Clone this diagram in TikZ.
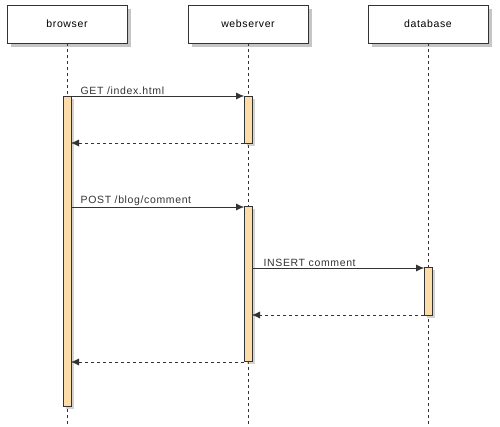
\documentclass[tikz,border=0pt]{standalone}
\usepackage{fontspec}
\setmainfont[LetterSpace=6]{Liberation Sans}
\usetikzlibrary{shadows,arrows.meta}
\definecolor{bar}{HTML}{FCDDAA}
\begin{document}
\begin{tikzpicture}[x=1pt,y=-1pt,
  actor/.style={draw=black!80,fill=white,minimum width=120pt,minimum height=38pt,inner sep=0,font=\fontsize{10.5}{12}\selectfont,drop shadow={shadow xshift=4pt,shadow yshift=-4pt,opacity=0.45}},
  act/.style={draw=black!80,fill=bar,minimum width=8pt,inner sep=0,anchor=north,drop shadow={shadow xshift=3pt,shadow yshift=-3pt,opacity=0.35}},
  life/.style={dashed,black!80},
  msg/.style={-{Latex[length=8pt,width=7pt]},black!80},
  ret/.style={msg,dashed},
  lbl/.style={font=\fontsize{10.5}{12}\selectfont,above right,inner sep=1.5pt}]
\useasboundingbox (0,0) rectangle (500,427);
\node[actor] (b) at (67,24) {browser};
\node[actor] (w) at (248,24) {webserver};
\node[actor] (d) at (428,24) {database};
\coordinate (be) at (67,427); \coordinate (we) at (248,427); \coordinate (de) at (428,427);
\draw[life] (b.south) -- (be);
\draw[life] (w.south) -- (we);
\draw[life] (d.south) -- (de);
\node[act,minimum height=310pt] (ba) at (67,96) {};
\node[act,minimum height=47pt] (wa1) at (248,96) {};
\node[act,minimum height=155pt] (wa2) at (248,206) {};
\node[act,minimum height=48pt] (da) at (428,267) {};
\coordinate (m1a) at (71,96); \coordinate (m1b) at (244,96);
\draw[msg] (m1a) -- (m1b) node[lbl,pos=0,xshift=8pt] {GET /index.html};
\coordinate (m2a) at (244,143); \coordinate (m2b) at (71,143);
\draw[ret] (m2a) -- (m2b);
\coordinate (m3a) at (71,207); \coordinate (m3b) at (244,207);
\draw[msg] (m3a) -- (m3b) node[lbl,pos=0,xshift=8pt] {POST /blog/comment};
\coordinate (m4a) at (252,268); \coordinate (m4b) at (424,268);
\draw[msg] (m4a) -- (m4b) node[lbl,pos=0,xshift=10pt] {INSERT comment};
\coordinate (m5a) at (424,315); \coordinate (m5b) at (252,315);
\draw[ret] (m5a) -- (m5b);
\coordinate (m6a) at (244,362); \coordinate (m6b) at (71,362);
\draw[ret] (m6a) -- (m6b);
\end{tikzpicture}
\end{document}
